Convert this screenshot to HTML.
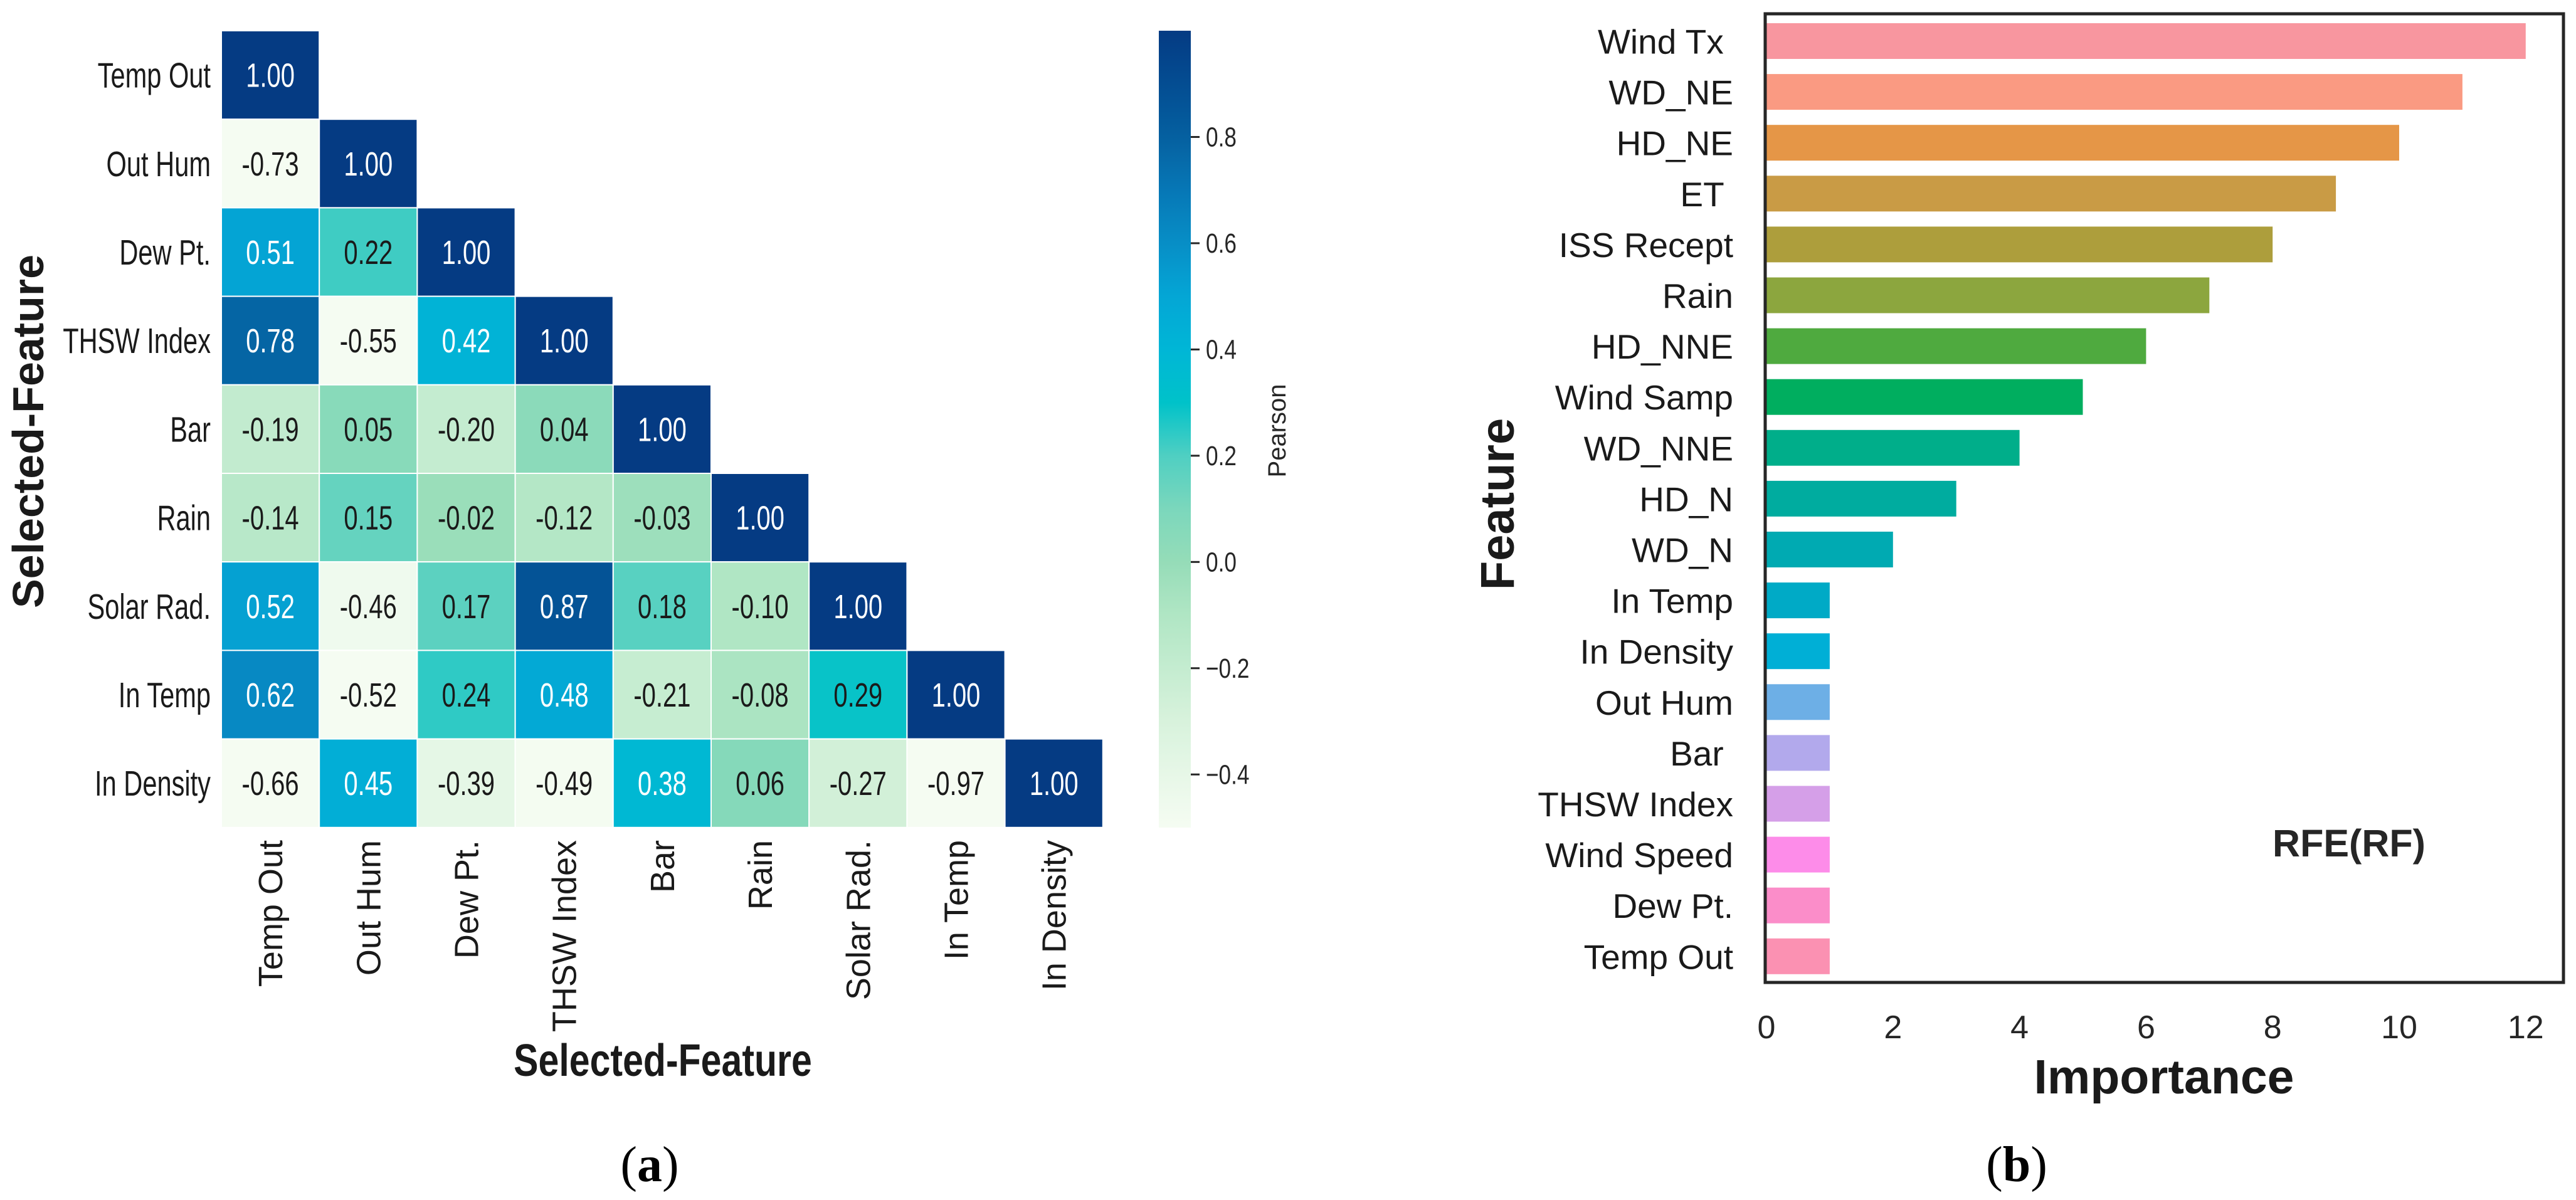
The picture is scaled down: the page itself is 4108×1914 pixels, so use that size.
<!DOCTYPE html>
<html><head><meta charset="utf-8">
<style>html,body{margin:0;padding:0;background:#fff;}svg{display:block;}</style>
</head><body>
<svg id="fig" xmlns="http://www.w3.org/2000/svg" width="4108" height="1914" viewBox="0 0 4108 1914" font-family="'Liberation Sans', sans-serif"></svg>
<script>
const heatLabels = ["Temp Out","Out Hum","Dew Pt.","THSW Index","Bar","Rain","Solar Rad.","In Temp","In Density"];
const corrRows = [
 [1.00],
 [-0.73,1.00],
 [0.51,0.22,1.00],
 [0.78,-0.55,0.42,1.00],
 [-0.19,0.05,-0.20,0.04,1.00],
 [-0.14,0.15,-0.02,-0.12,-0.03,1.00],
 [0.52,-0.46,0.17,0.87,0.18,-0.10,1.00],
 [0.62,-0.52,0.24,0.48,-0.21,-0.08,0.29,1.00],
 [-0.66,0.45,-0.39,-0.49,0.38,0.06,-0.27,-0.97,1.00]
];
const cbarTicks = [0.8,0.6,0.4,0.2,0.0,-0.2,-0.4];
const cbarTickLabels = ["0.8","0.6","0.4","0.2","0.0","\u22120.2","\u22120.4"];
const barFeatures = ["Wind Tx ","WD_NE","HD_NE","ET ","ISS Recept","Rain","HD_NNE","Wind Samp","WD_NNE","HD_N","WD_N","In Temp","In Density","Out Hum","Bar ","THSW Index","Wind Speed","Dew Pt.","Temp Out"];
const barValues = [12,11,10,9,8,7,6,5,4,3,2,1,1,1,1,1,1,1,1];
const barTicks = [0,2,4,6,8,10,12];
const barColors = ["#f8969f","#fa9a82","#e59647","#c99b45","#ad9e3c","#8ca63e","#4faa3f","#00ae5f","#00ae8a","#00ac9f","#00aab2","#00aac6","#00afd6","#6dafe6","#b2a9ec","#d59fe8","#fd8ce9","#fb8dc9","#fb91b2"];

const NS="http://www.w3.org/2000/svg";
const svg=document.getElementById('fig');
function mk(tag,attrs,parent,text){const e=document.createElementNS(NS,tag);for(const k in attrs)e.setAttribute(k,attrs[k]);if(text!==undefined)e.textContent=text;(parent||svg).appendChild(e);return e;}

const stops=[[-0.5,"#f5fcf2"],[-0.3,"#d8f2dc"],[-0.1,"#b0e6c4"],[0.0,"#95dcb8"],[0.1,"#7bd7bc"],[0.2,"#4fcfc2"],[0.3,"#00c2c9"],[0.4,"#00b6d6"],[0.5,"#04a6d5"],[0.6,"#078ec6"],[0.7,"#0677b6"],[0.8,"#0560a0"],[0.9,"#044d92"],[1.0,"#053b83"]];
function hex(h){return[parseInt(h.substr(1,2),16),parseInt(h.substr(3,2),16),parseInt(h.substr(5,2),16)];}
function cmap(v){v=Math.max(-0.5,Math.min(1,v));for(let i=0;i<stops.length-1;i++){const[a,ca]=stops[i],[b,cb]=stops[i+1];if(v<=b){const t=(v-a)/(b-a),A=hex(ca),B=hex(cb);return"rgb("+A.map((x,j)=>Math.round(x+(B[j]-x)*t)).join(",")+")";}}return stops[stops.length-1][1];}

const HX=353,HY=49,CW=156.2,CH=141.2;
const hx=i=>HX+i*CW, hy=j=>HY+j*CH;
const heat=mk('g',{});


corrRows.forEach((row,r)=>{row.forEach((v,c)=>{
  const rc=mk('rect',{x:hx(c),y:hy(r),width:CW,height:CH,fill:cmap(v),stroke:'#fff','stroke-width':2},heat);
  
  
  const g=mk('g',{transform:'translate('+(hx(c)+CW/2)+','+(hy(r)+CH/2+19)+') scale(0.74,1)'},heat);
  const t=mk('text',{x:0,y:0,'text-anchor':'middle','font-size':54,fill:v>=0.3?'#fff':'#1a1a1a'},g,v.toFixed(2));
  
  
});});
heatLabels.forEach((l,i)=>{
  const g=mk('g',{transform:'translate(336,'+(hy(i)+CH/2+20)+') scale(0.73,1)'});
  const t=mk('text',{x:0,y:0,'text-anchor':'end','font-size':57,fill:'#1a1a1a'},g,l);
  
  
  const t2=mk('text',{x:0,y:0,'text-anchor':'end','font-size':54,fill:'#1a1a1a',transform:'translate('+(hx(i)+CW/2+19)+',1340) rotate(-90)'},null,l);
  
  
});
let t=mk('text',{x:0,y:0,'text-anchor':'middle','font-size':70,'font-weight':'bold',fill:'#1a1a1a',transform:'translate(69,688) rotate(-90)'},null,'Selected-Feature');

let g0=mk('g',{transform:'translate(1057,1716) scale(0.82,1)'});
t=mk('text',{x:0,y:0,'text-anchor':'middle','font-size':72,'font-weight':'bold',fill:'#1a1a1a'},g0,'Selected-Feature');


const CBX=1848,CBW=51,CBT=49,CBB=1320,CBmin=-0.5,CBmax=1.0;
const cy=v=>CBB-(v-CBmin)/(CBmax-CBmin)*(CBB-CBT);
const defs=mk('defs',{});
const grad=mk('linearGradient',{id:'cbg',x1:0,y1:1,x2:0,y2:0},defs);
for(let k=0;k<=30;k++){const v=CBmin+(CBmax-CBmin)*k/30;mk('stop',{offset:(k/30),'stop-color':cmap(v)},grad);}
t=mk('rect',{x:CBX,y:CBT,width:CBW,height:CBB-CBT,fill:'url(#cbg)'});

cbarTicks.forEach((v,i)=>{
  mk('line',{x1:CBX+CBW,x2:CBX+CBW+14,y1:cy(v),y2:cy(v),stroke:'#262626','stroke-width':3});
  const g=mk('g',{transform:'translate('+(CBX+CBW+24)+','+(cy(v)+15)+') scale(0.8,1)'});
  const tt=mk('text',{x:0,y:0,'font-size':44,fill:'#262626'},g,cbarTickLabels[i]);
  
});
t=mk('text',{x:0,y:0,'text-anchor':'middle','font-size':40,fill:'#262626',transform:'translate(2050,687) rotate(-90)'},null,'Pearson');


t=mk('text',{x:1036,y:1884,'text-anchor':'middle','font-size':80,'font-family':"'Liberation Serif', serif",fill:'#000'},null,'');

mk('tspan',{},t,'(');mk('tspan',{'font-weight':'bold'},t,'a');mk('tspan',{},t,')');

const FX=2815,FR=4088,FT=22,FB=1567,X0=2817,XU=100.9,BT=37,BP=81.1,BH=57;
const bx=v=>X0+v*XU, by=i=>BT+i*BP;
const bars=mk('g',{});

barValues.forEach((v,i)=>{
  const r=mk('rect',{x:bx(0),y:by(i),width:bx(v)-bx(0),height:BH,fill:barColors[i]},bars);
  
  
  const l=mk('text',{x:2764,y:by(i)+BH/2+20,'text-anchor':'end','font-size':55,fill:'#1a1a1a'},null,barFeatures[i]);
  l.style.whiteSpace='pre';
  
});
t=mk('rect',{x:FX,y:FT,width:FR-FX,height:FB-FT,fill:'none',stroke:'#262626','stroke-width':5});

barTicks.forEach(v=>{
  const tt=mk('text',{x:bx(v),y:1656,'text-anchor':'middle','font-size':52,fill:'#262626'},null,String(v));
  
});
t=mk('text',{x:3451,y:1744,'text-anchor':'middle','font-size':77,'font-weight':'bold',fill:'#1a1a1a'},null,'Importance');

t=mk('text',{x:0,y:0,'text-anchor':'middle','font-size':76,'font-weight':'bold',fill:'#1a1a1a',transform:'translate(2414,804) rotate(-90)'},null,'Feature');

t=mk('text',{x:3746,y:1366,'text-anchor':'middle','font-size':61,'font-weight':'bold',fill:'#262626'},null,'RFE(RF)');

t=mk('text',{x:3216,y:1884,'text-anchor':'middle','font-size':80,'font-family':"'Liberation Serif', serif",fill:'#000'},null,'');

mk('tspan',{},t,'(');mk('tspan',{'font-weight':'bold'},t,'b');mk('tspan',{},t,')');
</script>
</body></html>
